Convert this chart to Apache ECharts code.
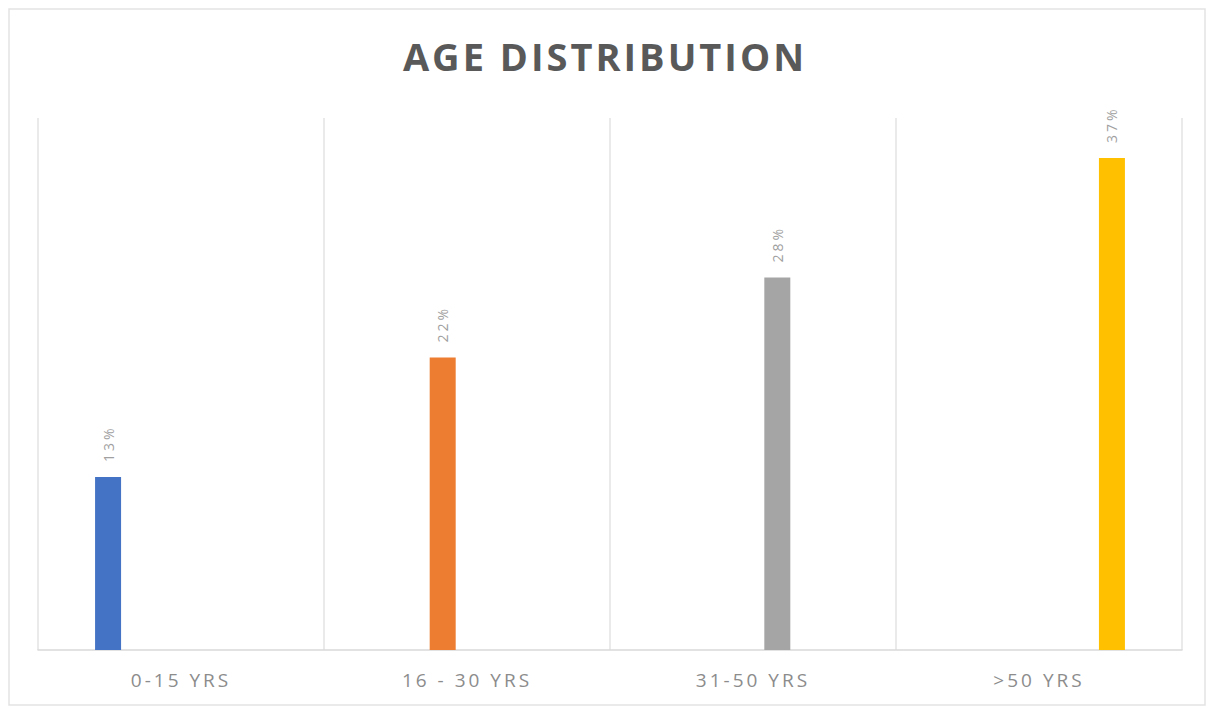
<!DOCTYPE html>
<html>
<head>
<meta charset="utf-8">
<script src="https://cdn.jsdelivr.net/npm/echarts@6/dist/echarts.min.js"></script>
<style>
  html, body { margin: 0; padding: 0; background: #fff; }
  #chart { width: 1210px; height: 709px; }
  #chart text { letter-spacing: 3px; }
</style>
</head>
<body>
<div id="chart"></div>
<script>
const titleText = 'AGE DISTRIBUTION';
const categories = ['0-15 YRS', '16 - 30 YRS', '31-50 YRS', '>50 YRS'];
const values = [13, 22, 28, 37];
const colors = ['#4472C4', '#ED7D31', '#A5A5A5', '#FFC000'];

const chart = echarts.init(document.getElementById('chart'), null, { renderer: 'svg' });

const series = categories.map((c, i) => ({
  name: c,
  type: 'bar',
  barWidth: 26,
  barGap: '87%',
  itemStyle: { color: colors[i] },
  data: categories.map((_, j) => (j === i ? values[i] : '-')),
  label: {
    show: true,
    position: 'top',
    rotate: 90,
    align: 'left',
    verticalAlign: 'middle',
    distance: 15,
    color: '#a0a0a0',
    fontSize: 14,
    fontFamily: 'Open Sans',
    formatter: p => p.value + '%'
  }
}));

chart.setOption({
  animation: false,
  title: {
    text: titleText,
    left: 'center',
    top: 32,
    textStyle: { fontFamily: 'Open Sans', fontWeight: 'bold', fontSize: 38, color: '#595959' }
  },
  graphic: [{
    type: 'rect',
    shape: { x: 9, y: 9, width: 1196, height: 696 },
    style: { fill: 'none', stroke: '#e3e3e3', lineWidth: 1.5 },
    silent: true, z: -1
  }],
  grid: { left: 38, right: 28, top: 118, bottom: 59, containLabel: false },
  xAxis: {
    type: 'category',
    data: categories,
    axisLine: { show: true, lineStyle: { color: '#d9d9d9', width: 1.5 } },
    axisTick: { show: false },
    splitLine: { show: true, lineStyle: { color: '#e3e3e3', width: 1.5 } },
    axisLabel: { color: '#8c8c8c', fontSize: 19, fontFamily: 'Open Sans', margin: 20 }
  },
  yAxis: {
    type: 'value',
    min: 0, max: 40,
    show: false,
    splitLine: { show: false }
  },
  series: series
});
</script>
</body>
</html>
